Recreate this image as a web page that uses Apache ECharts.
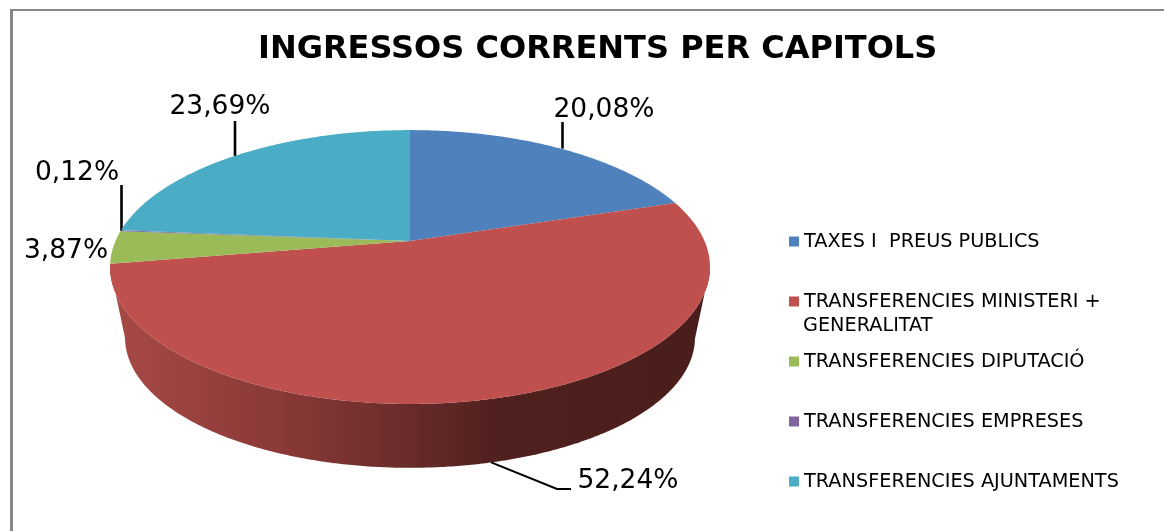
<!DOCTYPE html>
<html>
<head>
<meta charset="utf-8">
<style>html,body{margin:0;padding:0;background:#fff}#c{width:1164px;height:531px}</style>
<script src="https://cdn.jsdelivr.net/npm/echarts@6/dist/echarts.min.js"></script>
</head>
<body>
<div id="c"></div>
<script>
var titleText = 'INGRESSOS CORRENTS PER CAPITOLS';
var categories = ['TAXES I  PREUS PUBLICS', 'TRANSFERENCIES MINISTERI + GENERALITAT', 'TRANSFERENCIES DIPUTACIÓ', 'TRANSFERENCIES EMPRESES', 'TRANSFERENCIES AJUNTAMENTS'];
var values = [20.08, 52.24, 3.87, 0.12, 23.69];
var colors = ['#4f81bd', '#c0504d', '#9bbb59', '#8064a2', '#4bacc6'];

// Layout of the tilted pie (perspective projection of a circle)
var geo = { cx: 410, cy: 241, a: 294.5, b: 132, k: -0.19, cyLow: 313, sLow: 0.95 };
var labelCentres = [[604, 110], [628, 481], [66, 251], [77, 173], [220, 107]];
var leaderEnds = [[[562.5, 122]], [[557, 489], [571, 489]], null, [[121.5, 185]], [[235, 121]]];

var total = values.reduce(function (s, v) { return s + v; }, 0);
function rim(theta, low) {
  var u = Math.sin(theta), v = -Math.cos(theta), d = 1 + geo.k * v;
  var s = low ? geo.sLow : 1, cy = low ? geo.cyLow : geo.cy;
  return [geo.cx + s * geo.a * u / d, cy + s * geo.b * v / d];
}
function angleRange(i) {
  var before = 0;
  for (var j = 0; j < i; j++) before += values[j];
  return [before / total * 2 * Math.PI, (before + values[i]) / total * 2 * Math.PI];
}
function sample(t0, t1) {
  var n = Math.max(2, Math.ceil((t1 - t0) * 120)), out = [];
  for (var i = 0; i <= n; i++) out.push(t0 + (t1 - t0) * i / n);
  return out;
}
function fmt(v) { return v.toFixed(2).replace('.', ',') + '%'; }

function makeRender(i) {
  return function (params, api) {
    var value = api.value(0);
    var range = angleRange(i);
    var ts = sample(range[0], range[1]);
    var children = [];
    var front = ts.filter(function (t) { return -Math.cos(t) >= -geo.k; });
    if (front.length > 1) {
      var top = front.map(function (t) { return rim(t, false); });
      var low = front.slice().reverse().map(function (t) { return rim(t, true); });
      children.push({
        type: 'polygon', shape: { points: top.concat(low) },
        style: {
          fill: new echarts.graphic.LinearGradient(110, 0, 710, 0, [
            { offset: 0, color: '#a84a46' },
            { offset: 0.32, color: '#853735' },
            { offset: 0.48, color: '#6b2d2b' },
            { offset: 0.65, color: '#4f201e' },
            { offset: 1, color: '#4a1e1c' }
          ], true)
        }
      });
    }
    var face = [[geo.cx, geo.cy]].concat(ts.map(function (t) { return rim(t, false); }));
    children.push({ type: 'polygon', shape: { points: face }, style: { fill: colors[i] } });
    var mid = (range[0] + range[1]) / 2;
    var ends = leaderEnds[i];
    if (ends) {
      var start = rim(mid, -Math.cos(mid) > 0.5);
      if (ends.length === 1) start = [ends[0][0], start[1]];
      children.push({
        type: 'polyline', shape: { points: [start].concat(ends) },
        style: { stroke: '#000', lineWidth: ends.length === 1 ? 2.6 : 2, fill: null }
      });
    }
    children.push({
      type: 'text',
      style: {
        text: fmt(value), x: labelCentres[i][0], y: labelCentres[i][1],
        align: 'center', verticalAlign: 'middle', fill: '#000',
        font: '26.5px "DejaVu Sans"'
      }
    });
    return { type: 'group', children: children };
  };
}

var chart = echarts.init(document.getElementById('c'), null, { renderer: 'canvas' });
chart.setOption({
  animation: false,
  backgroundColor: '#fff',
  title: {
    text: titleText, left: 253, top: 29,
    textStyle: { fontFamily: 'DejaVu Sans', fontWeight: 'bold', fontSize: 32, color: '#000' }
  },
  legend: {
    orient: 'vertical', left: 789, top: 232, padding: 0,
    itemWidth: 10, itemHeight: 10, itemGap: 41,
    icon: 'rect', data: categories,
    formatter: function (n) { return n.replace(' GENERALITAT', ''); },
    textStyle: { fontFamily: 'DejaVu Sans', fontSize: 19.25, color: '#000' },
    selectedMode: false
  },
  graphic: [
    { type: 'line', shape: { x1: 11.5, y1: 10, x2: 11.5, y2: 531 }, style: { stroke: '#868686', lineWidth: 3 } },
    { type: 'line', shape: { x1: 10, y1: 10, x2: 1164, y2: 10 }, style: { stroke: '#868686', lineWidth: 2 } },
    { type: 'text', left: 803, top: 316, style: { text: 'GENERALITAT', fill: '#000', font: '19.25px "DejaVu Sans"' } }
  ],
  series: categories.map(function (name, i) {
    return {
      type: 'custom', name: name, coordinateSystem: 'none',
      itemStyle: { color: colors[i] },
      data: [[values[i]]],
      renderItem: makeRender(i)
    };
  })
});
</script>
</body>
</html>
